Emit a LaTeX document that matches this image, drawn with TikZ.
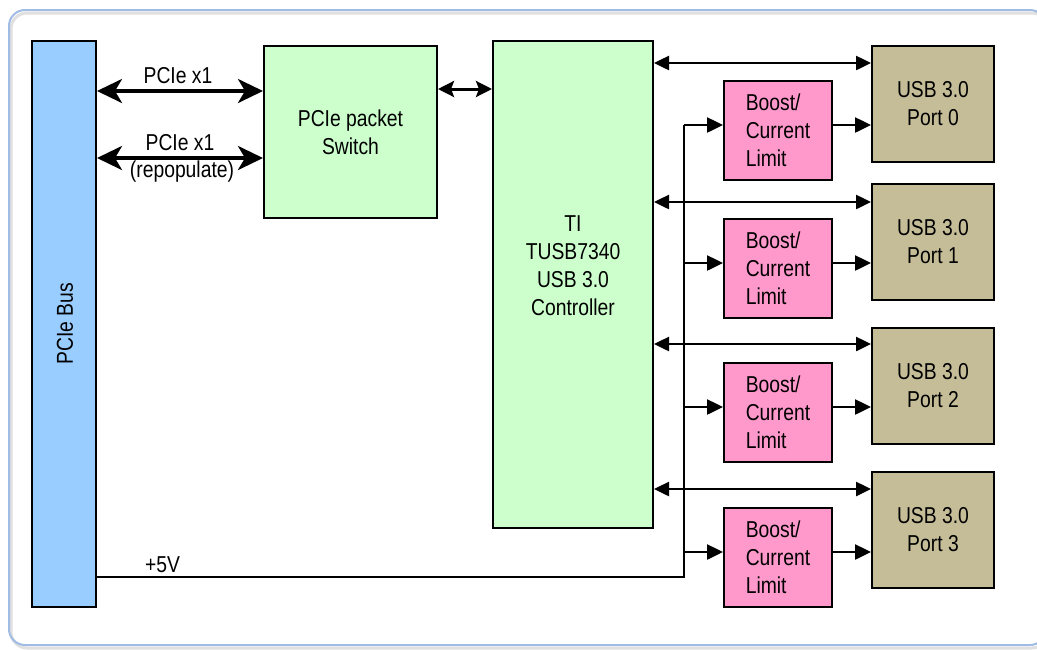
\documentclass[tikz,border=0pt]{standalone}
\usepackage{fontspec}
\setmainfont{Liberation Sans}[FakeStretch=0.84]
\usetikzlibrary{arrows.meta,calc}
\definecolor{busblue}{RGB}{153,204,255}
\definecolor{chipgreen}{RGB}{204,255,204}
\definecolor{boostpink}{RGB}{255,153,204}
\definecolor{porttan}{RGB}{196,189,151}
\definecolor{framec}{RGB}{160,188,228}
\begin{document}
\begin{tikzpicture}[x=1pt,y=-1pt,
  txt/.style={font=\fontsize{23}{28}\selectfont, align=center, inner sep=0pt},
  box/.style={draw, line width=2pt, inner sep=0pt, font=\fontsize{23}{28}\selectfont},
  big/.style={line width=3.5pt, {Stealth[length=25pt,width=24pt,inset=7pt]}-{Stealth[length=25pt,width=24pt,inset=7pt]}},
  mid/.style={line width=3pt, {Stealth[length=16pt,width=16pt,inset=3pt]}-{Stealth[length=16pt,width=16pt,inset=3pt]}},
  dat/.style={line width=2.5pt, {Triangle[length=15pt,width=14pt]}-{Triangle[length=15pt,width=14pt]}},
  pwr/.style={line width=2.5pt, -{Triangle[length=16pt,width=15pt]}},
  wire/.style={line width=2pt},
  portbox/.style={box, fill=porttan, minimum width=122, minimum height=116, align=center},
  boostbox/.style={box, fill=boostpink, minimum width=108, minimum height=99, align=left}
]
\path[use as bounding box, clip] (0,0) rectangle (1037,649);
\fill[white] (0,0) rectangle (1037,649);
% frame
\draw[black!12, line width=3pt, rounded corners=16pt] (11,13) rectangle (1048,648);
\draw[framec, line width=2pt, rounded corners=16pt] (9,10) rectangle (1046,645);

% main blocks
\node[box, fill=busblue, minimum width=64, minimum height=566] (bus) at (64,324) {};
\node[txt, rotate=90] (bustext) at (65,324) {PCIe Bus};
\node[box, fill=chipgreen, minimum width=173, minimum height=172, align=center] (sw) at (350.5,132) {PCIe packet\\Switch};
\node[box, fill=chipgreen, minimum width=160, minimum height=487] (ctrl) at (573,284.5) {};
\node[txt] (ctrltext) at (573,266) {TI\\TUSB7340\\USB 3.0\\Controller};

% ports
\node[portbox] (p0) at (933,103.5) {USB 3.0\\Port 0};
\node[portbox] (p1) at (933,241.5) {USB 3.0\\Port 1};
\node[portbox] (p2) at (933,385.5) {USB 3.0\\Port 2};
\node[portbox] (p3) at (933,530) {USB 3.0\\Port 3};

% boost
\node[boostbox] (b0) at (778,130.5) {Boost/\\Current\\Limit};
\node[boostbox] (b1) at (778,268.5) {Boost/\\Current\\Limit};
\node[boostbox] (b2) at (778,412) {Boost/\\Current\\Limit};
\node[boostbox] (b3) at (778,557) {Boost/\\Current\\Limit};

% helper rows
\coordinate (r1) at (0,91);
\coordinate (r2) at (0,158);
\coordinate (r3) at (0,89);
\coordinate (d0) at (0,63);
\coordinate (d1) at (0,202);
\coordinate (d2) at (0,344);
\coordinate (d3) at (0,489);
\coordinate (j0) at (684,125);
\coordinate (j1) at (684,263);
\coordinate (j2) at (684,407);
\coordinate (j3) at (684,552);
\coordinate (vj) at (684,577);

% PCIe links
\draw[big] (bus.east |- r1) -- (sw.west |- r1);
\draw[big] (bus.east |- r2) -- (sw.west |- r2);
\draw[mid] (sw.east |- r3) -- (ctrl.west |- r3);
\node[txt, anchor=base] (l1) at (178,83) {PCIe x1};
\node[txt, anchor=base] (l2) at (180,150) {PCIe x1};
\node[txt, anchor=base] (l3) at (182,177) {(repopulate)};

% data links
\draw[dat] (ctrl.east |- d0) -- (p0.west |- d0);
\draw[dat] (ctrl.east |- d1) -- (p1.west |- d1);
\draw[dat] (ctrl.east |- d2) -- (p2.west |- d2);
\draw[dat] (ctrl.east |- d3) -- (p3.west |- d3);

% power
\draw[wire] (bus.east |- vj) -- (vj) -- (j0);
\node[txt, anchor=base west] (v5) at (145,572) {+5V};
\draw[pwr] (j0) -- (b0.west |- j0);
\draw[pwr] (j1) -- (b1.west |- j1);
\draw[pwr] (j2) -- (b2.west |- j2);
\draw[pwr] (j3) -- (b3.west |- j3);
\draw[pwr] (b0.east |- j0) -- (p0.west |- j0);
\draw[pwr] (b1.east |- j1) -- (p1.west |- j1);
\draw[pwr] (b2.east |- j2) -- (p2.west |- j2);
\draw[pwr] (b3.east |- j3) -- (p3.west |- j3);
\end{tikzpicture}
\end{document}
